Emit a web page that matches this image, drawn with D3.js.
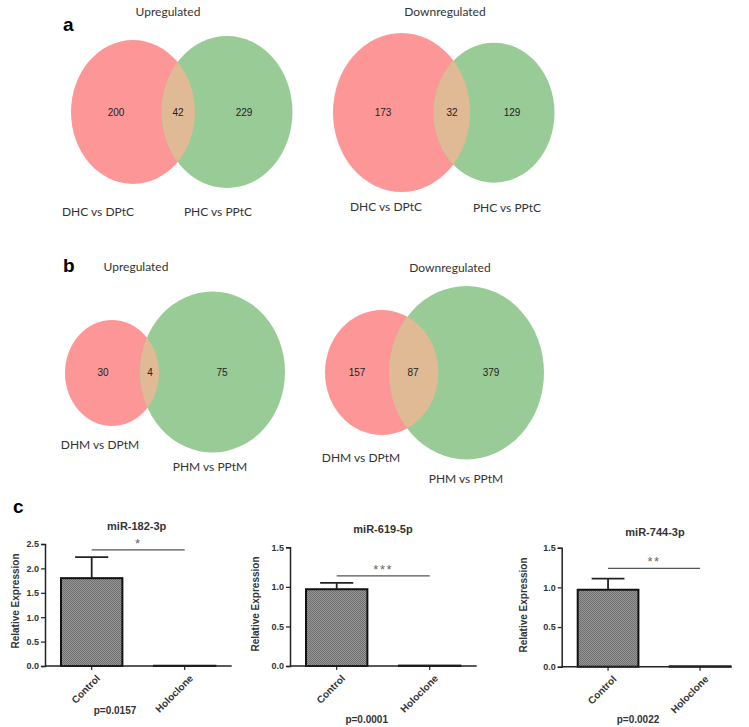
<!DOCTYPE html>
<html><head><meta charset="utf-8">
<script src="https://cdn.jsdelivr.net/npm/d3@7"></script>
<style>body{margin:0;background:#fff}svg{display:block}</style>
</head><body>
<script>
// ---------- DATA ----------
const vennTitles = ["Upregulated", "Downregulated", "Upregulated", "Downregulated"];
const vennSetA = ["DHC vs DPtC", "DHC vs DPtC", "DHM vs DPtM", "DHM vs DPtM"];
const vennSetB = ["PHC vs PPtC", "PHC vs PPtC", "PHM vs PPtM", "PHM vs PPtM"];
const vennOnlyA = [200, 173, 30, 157];
const vennShared = [42, 32, 4, 87];
const vennOnlyB = [229, 129, 75, 379];

const genes = ["miR-182-3p", "miR-619-5p", "miR-744-3p"];
const groups = ["Control", "Holoclone"];
const meanExpr = [[1.80, 0.005], [0.97, 0.005], [0.97, 0.005]];
const errExpr = [[0.43, 0], [0.08, 0], [0.14, 0]];
const yMax = [2.5, 1.5, 1.5];
const yTicks = [[0, 0.5, 1.0, 1.5, 2.0, 2.5], [0, 0.5, 1.0, 1.5], [0, 0.5, 1.0, 1.5]];
const sigStars = ["*", "***", "**"];
const sigLevel = [2.38, 1.14, 1.24];
const pValues = ["p=0.0157", "p=0.0001", "p=0.0022"];

// ---------- LAYOUT ----------
const W = 749, H = 727;
const RED = "#fd9797", GREEN = "#99cb96", LENS = "#dfba95";
const vennLayout = [
  {a:{cx:133,cy:112,rx:62,ry:72}, b:{cx:227,cy:112,rx:65.5,ry:76},
   title:[168,16], la:[98,216], lb:[218,216], ta:116, ts:178, tb:244, ty:112},
  {a:{cx:401.5,cy:112.5,rx:68.5,ry:79.5}, b:{cx:494,cy:112.7,rx:60.5,ry:70},
   title:[445,16], la:[386,211], lb:[507,212], ta:383, ts:452, tb:512, ty:112},
  {a:{cx:112,cy:373,rx:47,ry:53}, b:{cx:212.5,cy:372,rx:72.5,ry:80.5},
   title:[136,271], la:[100,449], lb:[210,471], ta:103, ts:150, tb:222, ty:372},
  {a:{cx:381.7,cy:372.5,rx:56.7,ry:62.5}, b:{cx:466.5,cy:372.7,rx:77.5,ry:86.7},
   title:[450,272], la:[361,462], lb:[466,483], ta:357, ts:413, tb:491, ty:372}
];
const barLayout = [
  {yx:45, y0:666, yTop:544, bandStart:61, step:93, axisEnd:231.7, title:[136.7,530], ylab:[15,601], p:[115,714]},
  {yx:290, y0:666, yTop:547.3, bandStart:306, step:93, axisEnd:476.7, title:[383,533], ylab:[255,604], p:[366.7,723]},
  {yx:561.7, y0:666.7, yTop:547.7, bandStart:577.7, step:92, axisEnd:731.7, title:[655,536], ylab:[523,605], p:[638,723]}
];

const svg = d3.select("body").append("svg").attr("width", W).attr("height", H)
  .attr("viewBox", `0 0 ${W} ${H}`);
const defs = svg.append("defs");

// fine checker pattern for bars
const pat = defs.append("pattern").attr("id", "hatch").attr("patternUnits", "userSpaceOnUse")
  .attr("width", 2).attr("height", 2);
pat.append("rect").attr("width", 2).attr("height", 2).attr("fill", "#9a9a9a");
pat.append("rect").attr("width", 1).attr("height", 1).attr("fill", "#6c6c6c");
pat.append("rect").attr("x", 1).attr("y", 1).attr("width", 1).attr("height", 1).attr("fill", "#6c6c6c");

// panel letters
const letterFont = "Liberation Sans, Arial, sans-serif";
[["a",63,31],["b",63,272],["c",13,513]].forEach(([t,x,y]) => {
  svg.append("text").attr("x", x).attr("y", y).text(t)
    .attr("font-family", letterFont).attr("font-weight", "bold").attr("font-size", 19).attr("fill", "#000");
});

// ---------- VENNS ----------
const vennFont = "Lato, 'Open Sans', sans-serif";
vennLayout.forEach((L, i) => {
  const g = svg.append("g");
  const clipId = "clipA" + i;
  defs.append("clipPath").attr("id", clipId).append("ellipse")
    .attr("cx", L.a.cx).attr("cy", L.a.cy).attr("rx", L.a.rx).attr("ry", L.a.ry);
  g.append("ellipse").attr("cx", L.a.cx).attr("cy", L.a.cy).attr("rx", L.a.rx).attr("ry", L.a.ry).attr("fill", RED);
  g.append("ellipse").attr("cx", L.b.cx).attr("cy", L.b.cy).attr("rx", L.b.rx).attr("ry", L.b.ry).attr("fill", GREEN);
  g.append("ellipse").attr("cx", L.b.cx).attr("cy", L.b.cy).attr("rx", L.b.rx).attr("ry", L.b.ry)
    .attr("fill", LENS).attr("clip-path", `url(#${clipId})`);
  const num = (x, v) => g.append("text").attr("x", x).attr("y", L.ty).attr("dy", "0.35em")
    .attr("text-anchor", "middle").attr("font-family", "Liberation Sans, Arial, sans-serif")
    .attr("font-size", 10).attr("fill", "#222").text(v);
  num(L.ta, vennOnlyA[i]); num(L.ts, vennShared[i]); num(L.tb, vennOnlyB[i]);
  const lab = (pos, t) => g.append("text").attr("x", pos[0]).attr("y", pos[1]).attr("text-anchor", "middle")
    .attr("font-family", vennFont).attr("font-size", 12).attr("fill", "#333").text(t);
  lab(L.title, vennTitles[i]);
  lab(L.la, vennSetA[i]);
  lab(L.lb, vennSetB[i]);
});

// ---------- BAR CHARTS ----------
const chartFont = "Liberation Sans, Arial, sans-serif";
barLayout.forEach((L, i) => {
  const g = svg.append("g").attr("font-family", chartFont);
  const y = d3.scaleLinear().domain([0, yMax[i]]).range([L.y0, L.yTop]);
  const x = d3.scaleBand().domain(groups)
    .range([L.bandStart, L.bandStart + L.step * 1.66]).paddingInner(0.34).paddingOuter(0);
  const bw = x.bandwidth();

  // bars
  g.selectAll("rect.bar").data(groups).join("rect").attr("class", "bar")
    .attr("x", d => x(d)).attr("width", bw)
    .attr("y", (d, j) => y(meanExpr[i][j]))
    .attr("height", (d, j) => Math.max(0, y(0) - y(meanExpr[i][j])))
    .attr("fill", "url(#hatch)").attr("stroke", "#111").attr("stroke-width", 2);

  // error bars (upper)
  groups.forEach((d, j) => {
    if (errExpr[i][j] <= 0) return;
    const cx = x(d) + bw / 2, top = y(meanExpr[i][j] + errExpr[i][j]);
    g.append("line").attr("x1", cx).attr("x2", cx).attr("y1", y(meanExpr[i][j])).attr("y2", top)
      .attr("stroke", "#222").attr("stroke-width", 1.8);
    g.append("line").attr("x1", cx - bw * 0.27).attr("x2", cx + bw * 0.27).attr("y1", top).attr("y2", top)
      .attr("stroke", "#222").attr("stroke-width", 1.8);
  });

  // y axis
  const yAxis = g.append("g").attr("transform", `translate(${L.yx},0)`)
    .call(d3.axisLeft(y).tickValues(yTicks[i]).tickFormat(d3.format(".1f")).tickSize(4).tickPadding(2));
  yAxis.select(".domain").attr("stroke", "#222").attr("stroke-width", 1.5);
  yAxis.selectAll(".tick line").attr("stroke", "#222").attr("stroke-width", 1.2);
  yAxis.selectAll(".tick text").attr("font-size", 9).attr("font-weight", "bold").attr("fill", "#333")
    .attr("font-family", chartFont);

  // x axis
  g.append("line").attr("x1", L.yx).attr("x2", L.axisEnd).attr("y1", L.y0).attr("y2", L.y0)
    .attr("stroke", "#222").attr("stroke-width", 1.5);
  const xAxis = g.append("g").attr("transform", `translate(0,${L.y0})`)
    .call(d3.axisBottom(x).tickSize(4).tickPadding(3));
  xAxis.select(".domain").remove();
  xAxis.selectAll(".tick line").attr("stroke", "#222").attr("stroke-width", 1.2);
  xAxis.selectAll(".tick text").attr("font-size", 10).attr("font-weight", "bold").attr("fill", "#333")
    .attr("font-family", chartFont)
    .attr("text-anchor", "end").attr("dy", "0.3em").attr("transform", "translate(2,6) rotate(-45)");

  // title
  g.append("text").attr("x", L.title[0]).attr("y", L.title[1]).attr("text-anchor", "middle")
    .attr("font-size", 11).attr("font-weight", "bold").attr("fill", "#333").text(genes[i]);
  // y label
  g.append("text").attr("transform", `translate(${L.ylab[0]},${L.ylab[1]}) rotate(-90)`)
    .attr("text-anchor", "middle").attr("dy", "0.35em").attr("font-size", 10).attr("font-weight", "bold")
    .attr("fill", "#333").text("Relative Expression");
  // significance
  const c0 = x(groups[0]) + bw / 2, c1 = x(groups[1]) + bw / 2;
  g.append("line").attr("x1", c0).attr("x2", c1).attr("y1", y(sigLevel[i])).attr("y2", y(sigLevel[i]))
    .attr("stroke", "#555").attr("stroke-width", 1.3);
  g.append("text").attr("x", (c0 + c1) / 2).attr("y", y(sigLevel[i]) - 2).attr("text-anchor", "middle")
    .attr("font-size", 13).attr("fill", "#666").attr("letter-spacing", 1.5).text(sigStars[i]);
  // p value
  g.append("text").attr("x", L.p[0]).attr("y", L.p[1]).attr("text-anchor", "middle")
    .attr("font-size", 10).attr("font-weight", "bold").attr("fill", "#333").text(pValues[i]);
});
</script>
</body></html>
